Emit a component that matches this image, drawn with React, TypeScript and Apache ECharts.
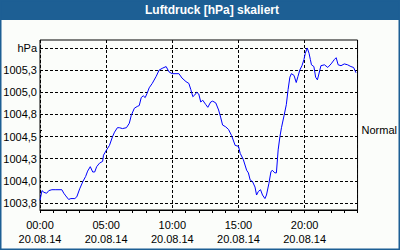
import React, { useEffect, useRef } from "react";
import * as echarts from "echarts";

const TITLE = "Luftdruck [hPa] skaliert";
const DATE_LABEL = "20.08.14";
const Y_TICKS = [1003.75, 1004.0, 1004.25, 1004.5, 1004.75, 1005.0, 1005.25, 1005.5];
const Y_UNIT = "hPa";
const NORMAL_VALUE = 1004.57;
const NORMAL_LABEL = "Normal";
const HOUR_TICKS = [0, 60, 120, 180, 240, 300, 360, 420, 480, 540, 600, 660, 720, 780, 840, 900, 960, 1020, 1080, 1140, 1200, 1260, 1320, 1380, 1440];

// minutes since 00:00 on 20.08.14
const timeMinutes = [
  0, 9, 18, 30, 40, 54, 72, 99, 108, 117, 130, 140, 158, 167, 180, 194, 207, 216, 228, 239,
  248, 257, 270, 284, 288, 302, 315, 329, 338, 351, 360, 374, 392, 405, 414, 428, 441, 450, 459, 468,
  477, 486, 495, 509, 527, 540, 554, 572, 585, 599, 617, 630, 644, 662, 675, 684, 693, 702, 711, 720,
  729, 738, 752, 761, 774, 783, 797, 810, 819, 828, 842, 855, 869, 885, 900, 908, 922, 937, 945, 953,
  964, 975, 982, 990, 1000, 1009, 1020, 1027, 1038, 1047, 1053, 1065, 1072, 1080, 1088, 1095, 1107, 1117, 1125, 1133,
  1140, 1152, 1162, 1170, 1178, 1188, 1197, 1203, 1212, 1220, 1226, 1231, 1242, 1250, 1258, 1268, 1274, 1290, 1305, 1320,
  1335, 1343, 1352, 1365, 1380, 1395, 1410, 1422, 1433,
];

// air pressure in hPa
const pressure = [
  1003.78, 1003.89, 1003.87, 1003.86, 1003.89, 1003.9, 1003.9, 1003.9, 1003.86, 1003.83, 1003.79, 1003.8, 1003.8, 1003.82, 1003.91, 1003.99, 1004.05, 1004.11, 1004.16, 1004.1,
  1004.1, 1004.16, 1004.2, 1004.22, 1004.29, 1004.35, 1004.4, 1004.5, 1004.55, 1004.6, 1004.6, 1004.59, 1004.6, 1004.65, 1004.74, 1004.82, 1004.84, 1004.85, 1004.94, 1004.96,
  1004.94, 1004.99, 1005.05, 1005.1, 1005.18, 1005.25, 1005.27, 1005.29, 1005.23, 1005.21, 1005.21, 1005.21, 1005.16, 1005.12, 1005.1, 1005.03, 1004.95, 1004.97, 1005.0, 1004.98,
  1004.89, 1004.91, 1004.86, 1004.83, 1004.89, 1004.9, 1004.88, 1004.8, 1004.72, 1004.63, 1004.61, 1004.58, 1004.51, 1004.4, 1004.39, 1004.31, 1004.24, 1004.12, 1004.09, 1004.01,
  1003.99, 1003.93, 1003.84, 1003.88, 1003.9, 1003.84, 1003.8, 1003.84, 1003.97, 1004.1, 1004.12, 1004.09, 1004.09, 1004.35, 1004.5, 1004.6, 1004.74, 1004.86, 1005.03, 1005.17,
  1005.21, 1005.19, 1005.11, 1005.18, 1005.25, 1005.3, 1005.37, 1005.44, 1005.5, 1005.44, 1005.37, 1005.31, 1005.29, 1005.17, 1005.14, 1005.24, 1005.3, 1005.31, 1005.28, 1005.32,
  1005.37, 1005.39, 1005.31, 1005.3, 1005.32, 1005.31, 1005.29, 1005.28, 1005.22,
];

const Y_MIN = 1003.671;
const Y_MAX = 1005.59;
const FONT = "Liberation Sans";

function pad(n: number) {
  return n < 10 ? "0" + n : String(n);
}

export default function App() {
  const ref = useRef<HTMLDivElement>(null);
  useEffect(() => {
    if (!ref.current) return;
    const chart = echarts.init(ref.current, null, { renderer: "svg" });
    const seriesData = timeMinutes.map((t, i) => [t, pressure[i]]);
    chart.setOption({
      animation: false,
      backgroundColor: "#fbfdfa",
      textStyle: { fontFamily: FONT },
      graphic: [
        { type: "rect", shape: { x: 0, y: 0, width: 400, height: 20 }, style: { fill: "#1d5f94" }, silent: true },
        { type: "rect", shape: { x: 0, y: 0, width: 400, height: 250 }, style: { fill: "none", stroke: "#1d5f94", lineWidth: 3 }, silent: true },
        {
          type: "text",
          x: 212,
          y: 10,
          style: {
            text: TITLE,
            fill: "#ffffff",
            font: "bold 12px 'Liberation Sans'",
            textAlign: "center",
            textVerticalAlign: "middle",
          },
          silent: true,
        },
      ],
      grid: {
        left: 40,
        right: 40,
        top: 40,
        bottom: 40,
        show: true,
        borderColor: "#000",
        borderWidth: 1,
        backgroundColor: "transparent",
      },
      xAxis: [
        {
          type: "value",
          min: 0,
          max: 1440,
          interval: 300,
          axisLine: { show: true, lineStyle: { color: "#000", width: 1 } },
          axisTick: { show: false },
          splitLine: { show: true, lineStyle: { color: "#000", type: [3, 2], width: 1 } },
          axisLabel: {
            showMaxLabel: false,
            color: "#000",
            fontFamily: FONT,
            fontSize: 11,
            lineHeight: 14,
            margin: 8,
            formatter: (v: number) => `${pad(Math.floor(v / 60))}:${pad(v % 60)}\n${DATE_LABEL}`,
          },
        },
        {
          type: "value",
          position: "bottom",
          min: 0,
          max: 1440,
          axisLine: { show: false },
          axisTick: { show: true, length: 3, lineStyle: { color: "#000" }, customValues: HOUR_TICKS },
          axisLabel: { show: false },
          splitLine: { show: false },
        },
      ],
      yAxis: [
        {
          type: "value",
          min: Y_MIN,
          max: Y_MAX,
          axisLine: { show: false },
          axisTick: { show: false, customValues: Y_TICKS },
          splitLine: { show: true, lineStyle: { color: "#000", type: [3, 2], width: 1 } },
          axisLabel: {
            customValues: Y_TICKS,
            color: "#000",
            fontFamily: FONT,
            fontSize: 11,
            margin: 3,
            formatter: (v: number) => (v >= 1005.45 ? Y_UNIT : v.toFixed(1).replace(".", ",")),
          },
        },
        {
          type: "value",
          position: "right",
          min: Y_MIN,
          max: Y_MAX,
          axisLine: { show: false },
          axisTick: { show: true, length: 2, lineStyle: { color: "#000" }, customValues: [NORMAL_VALUE] },
          splitLine: { show: false },
          axisLabel: {
            customValues: [NORMAL_VALUE],
            color: "#000",
            fontFamily: FONT,
            fontSize: 11,
            margin: 4,
            formatter: () => NORMAL_LABEL,
          },
        },
      ],
      series: [
        {
          type: "line",
          xAxisIndex: 0,
          yAxisIndex: 0,
          data: seriesData,
          showSymbol: false,
          symbol: "none",
          lineStyle: { color: "#0000ff", width: 1 },
        },
      ],
    });
    return () => chart.dispose();
  }, []);
  return <div ref={ref} style={{ width: 400, height: 250, position: "absolute", left: 0, top: 0 }} />;
}
